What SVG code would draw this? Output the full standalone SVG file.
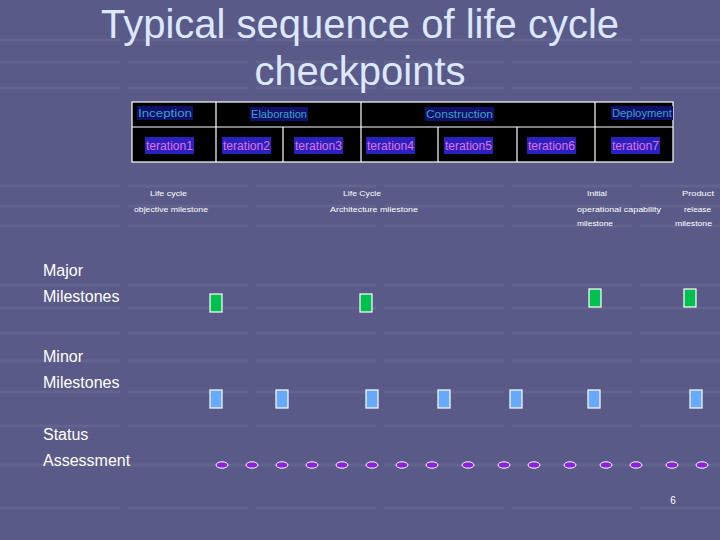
<svg xmlns="http://www.w3.org/2000/svg" width="720" height="540" viewBox="0 0 720 540">
<defs>
<style>
.title{font-family:"Liberation Sans",Arial,sans-serif;font-size:40px;fill:#dce8ff;text-anchor:middle}
.phase{font-family:"Liberation Sans",Arial,sans-serif;font-size:11px;fill:#3aa0c8}
.iter{font-family:"Liberation Sans",Arial,sans-serif;font-size:12px;fill:#e070e0}
.ms{font-family:"Liberation Sans",Arial,sans-serif;font-size:8px;fill:#ffffff}
.side{font-family:"Liberation Sans",Arial,sans-serif;font-size:16px;fill:#ffffff}
.grid{stroke:#ffffff;stroke-opacity:0.06;stroke-width:3;stroke-dasharray:120 8}
.cell{fill:#000000;stroke:#ffffff;stroke-width:1.2}
.hl1{fill:#10106a}
.hl2{fill:#2a22c0}
.major{fill:#00c050;stroke:#ffffff;stroke-width:1.2}
.minor{fill:#66aaff;stroke:#ffffff;stroke-width:1.2}
.status{fill:#8a22e0;stroke:#ffffff;stroke-width:1}
</style>
</defs>
<rect width="720" height="540" fill="#5a5a88"/>
<g id="background-grid">
<line class="grid" x1="0" y1="40" x2="720" y2="40"/>
<line class="grid" x1="0" y1="62" x2="720" y2="62"/>
<line class="grid" x1="0" y1="88" x2="720" y2="88"/>
<line class="grid" x1="0" y1="186" x2="720" y2="186"/>
<line class="grid" x1="0" y1="206" x2="720" y2="206"/>
<line class="grid" x1="0" y1="226" x2="720" y2="226"/>
<line class="grid" x1="0" y1="285" x2="720" y2="285"/>
<line class="grid" x1="0" y1="308" x2="720" y2="308"/>
<line class="grid" x1="0" y1="333" x2="720" y2="333"/>
<line class="grid" x1="0" y1="361" x2="720" y2="361"/>
<line class="grid" x1="0" y1="392" x2="720" y2="392"/>
<line class="grid" x1="0" y1="426" x2="720" y2="426"/>
<line class="grid" x1="0" y1="465" x2="720" y2="465"/>
<line class="grid" x1="0" y1="508" x2="720" y2="508"/>
</g>
<g id="title">
<text class="title" x="360" y="38">Typical sequence of life cycle</text>
<text class="title" x="360" y="85">checkpoints</text>
</g>
<g id="phase-table">
<rect class="cell" x="132" y="102" width="541" height="60"/>
<line stroke="#ffffff" stroke-width="1.2" x1="132" y1="127" x2="673" y2="127"/>
<line stroke="#ffffff" stroke-width="1.2" x1="216" y1="102" x2="216" y2="162"/>
<line stroke="#ffffff" stroke-width="1.2" x1="361" y1="102" x2="361" y2="162"/>
<line stroke="#ffffff" stroke-width="1.2" x1="595" y1="102" x2="595" y2="162"/>
<line stroke="#ffffff" stroke-width="1.2" x1="283" y1="127" x2="283" y2="162"/>
<line stroke="#ffffff" stroke-width="1.2" x1="438" y1="127" x2="438" y2="162"/>
<line stroke="#ffffff" stroke-width="1.2" x1="517" y1="127" x2="517" y2="162"/>
<g id="phase-inception"><rect class="hl1" x="137" y="106" width="56" height="14"/><text class="phase" x="138" y="117" textLength="54" lengthAdjust="spacingAndGlyphs">Inception</text></g>
<g id="phase-elaboration"><rect class="hl1" x="250" y="107" width="58" height="14"/><text class="phase" x="251" y="118" textLength="56" lengthAdjust="spacingAndGlyphs">Elaboration</text></g>
<g id="phase-construction"><rect class="hl1" x="425" y="107" width="69" height="14"/><text class="phase" x="426" y="118" textLength="67" lengthAdjust="spacingAndGlyphs">Construction</text></g>
<g id="phase-deployment"><rect class="hl1" x="611" y="106" width="62" height="14"/><text class="phase" x="612" y="117" textLength="60" lengthAdjust="spacingAndGlyphs">Deployment</text></g>
<g id="iter1"><rect class="hl2" x="145" y="137" width="49" height="17"/><text class="iter" x="146" y="150" textLength="47" lengthAdjust="spacingAndGlyphs">teration1</text></g>
<g id="iter2"><rect class="hl2" x="222" y="137" width="49" height="17"/><text class="iter" x="223" y="150" textLength="47" lengthAdjust="spacingAndGlyphs">teration2</text></g>
<g id="iter3"><rect class="hl2" x="294" y="137" width="49" height="17"/><text class="iter" x="295" y="150" textLength="47" lengthAdjust="spacingAndGlyphs">teration3</text></g>
<g id="iter4"><rect class="hl2" x="366" y="137" width="49" height="17"/><text class="iter" x="367" y="150" textLength="47" lengthAdjust="spacingAndGlyphs">teration4</text></g>
<g id="iter5"><rect class="hl2" x="444" y="137" width="49" height="17"/><text class="iter" x="445" y="150" textLength="47" lengthAdjust="spacingAndGlyphs">teration5</text></g>
<g id="iter6"><rect class="hl2" x="527" y="137" width="49" height="17"/><text class="iter" x="528" y="150" textLength="47" lengthAdjust="spacingAndGlyphs">teration6</text></g>
<g id="iter7"><rect class="hl2" x="611" y="137" width="49" height="17"/><text class="iter" x="612" y="150" textLength="47" lengthAdjust="spacingAndGlyphs">teration7</text></g>
</g>
<g id="milestone-labels">
<text class="ms" x="150" y="196" textLength="37" lengthAdjust="spacingAndGlyphs">Life cycle</text>
<text class="ms" x="134" y="212" textLength="74" lengthAdjust="spacingAndGlyphs">objective milestone</text>
<text class="ms" x="343" y="196" textLength="38" lengthAdjust="spacingAndGlyphs">Life Cycle</text>
<text class="ms" x="330" y="212" textLength="88" lengthAdjust="spacingAndGlyphs">Architecture milestone</text>
<text class="ms" x="587" y="196" textLength="20" lengthAdjust="spacingAndGlyphs">Initial</text>
<text class="ms" x="577" y="212" textLength="84" lengthAdjust="spacingAndGlyphs">operational capability</text>
<text class="ms" x="577" y="226" textLength="36" lengthAdjust="spacingAndGlyphs">milestone</text>
<text class="ms" x="682" y="196" textLength="32" lengthAdjust="spacingAndGlyphs">Product</text>
<text class="ms" x="684" y="212" textLength="27" lengthAdjust="spacingAndGlyphs">release</text>
<text class="ms" x="675" y="226" textLength="37" lengthAdjust="spacingAndGlyphs">milestone</text>
</g>
<g id="row-labels">
<text class="side" x="43" y="276">Major</text>
<text class="side" x="43" y="302">Milestones</text>
<text class="side" x="43" y="362">Minor</text>
<text class="side" x="43" y="388">Milestones</text>
<text class="side" x="43" y="440">Status</text>
<text class="side" x="43" y="466">Assessment</text>
</g>
<g id="major-milestones">
<rect class="major" x="210" y="294" width="12" height="18"/>
<rect class="major" x="360" y="294" width="12" height="18"/>
<rect class="major" x="589" y="289" width="12" height="18"/>
<rect class="major" x="684" y="289" width="12" height="18"/>
</g>
<g id="minor-milestones">
<rect class="minor" x="210" y="390" width="12" height="18"/>
<rect class="minor" x="276" y="390" width="12" height="18"/>
<rect class="minor" x="366" y="390" width="12" height="18"/>
<rect class="minor" x="438" y="390" width="12" height="18"/>
<rect class="minor" x="510" y="390" width="12" height="18"/>
<rect class="minor" x="588" y="390" width="12" height="18"/>
<rect class="minor" x="690" y="390" width="12" height="18"/>
</g>
<g id="status-assessments">
<ellipse class="status" cx="222" cy="465" rx="6" ry="3.2"/>
<ellipse class="status" cx="252" cy="465" rx="6" ry="3.2"/>
<ellipse class="status" cx="282" cy="465" rx="6" ry="3.2"/>
<ellipse class="status" cx="312" cy="465" rx="6" ry="3.2"/>
<ellipse class="status" cx="342" cy="465" rx="6" ry="3.2"/>
<ellipse class="status" cx="372" cy="465" rx="6" ry="3.2"/>
<ellipse class="status" cx="402" cy="465" rx="6" ry="3.2"/>
<ellipse class="status" cx="432" cy="465" rx="6" ry="3.2"/>
<ellipse class="status" cx="468" cy="465" rx="6" ry="3.2"/>
<ellipse class="status" cx="504" cy="465" rx="6" ry="3.2"/>
<ellipse class="status" cx="534" cy="465" rx="6" ry="3.2"/>
<ellipse class="status" cx="570" cy="465" rx="6" ry="3.2"/>
<ellipse class="status" cx="606" cy="465" rx="6" ry="3.2"/>
<ellipse class="status" cx="636" cy="465" rx="6" ry="3.2"/>
<ellipse class="status" cx="672" cy="465" rx="6" ry="3.2"/>
<ellipse class="status" cx="702" cy="465" rx="6" ry="3.2"/>
</g>
<g id="connectors"></g>
<text x="673" y="504" font-family="Liberation Sans, Arial, sans-serif" font-size="10" fill="#ffffff" text-anchor="middle">6</text>
</svg>
